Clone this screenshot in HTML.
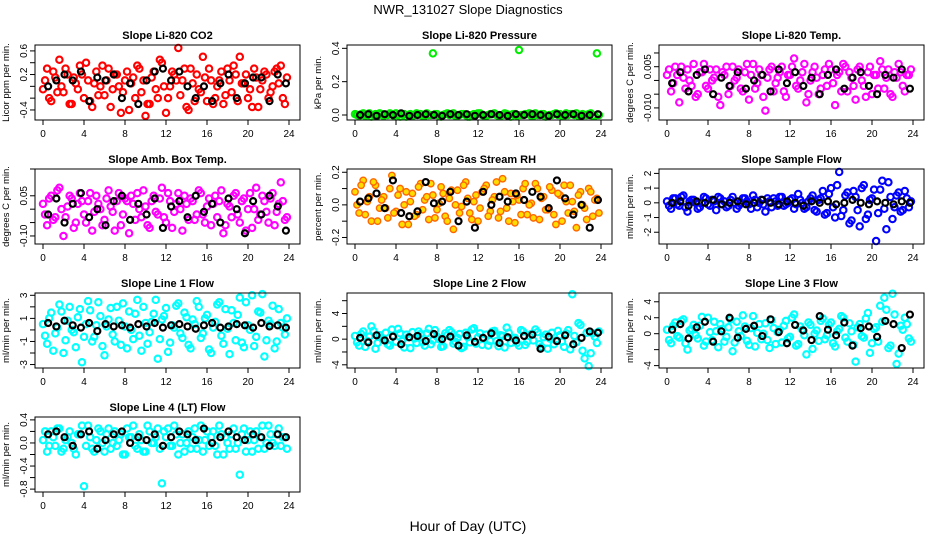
<!DOCTYPE html>
<html><head><meta charset="utf-8"><style>
body{margin:0;background:#fff}
svg{display:block;font-family:"Liberation Sans",sans-serif}
</style></head><body>
<svg id="chart" width="936" height="540" viewBox="0 0 936 540" xmlns="http://www.w3.org/2000/svg">
<rect width="936" height="540" fill="#fff"/>
<text x="468" y="14" text-anchor="middle" font-size="13">NWR_131027  Slope Diagnostics</text>
<text x="468" y="531" text-anchor="middle" font-size="14">Hour of Day (UTC)</text>
</svg>
<script>
const timesColored=[0,0.4,0.8,1.2,1.6,2,2.4,2.8,3.2,3.6,4,4.4,4.8,5.2,5.6,6,6.4,6.8,7.2,7.6,8,8.4,8.8,9.2,9.6,10,10.4,10.8,11.2,11.6,12,12.4,12.8,13.2,13.6,14,14.4,14.8,15.2,15.6,16,16.4,16.8,17.2,17.6,18,18.4,18.8,19.2,19.6,20,20.4,20.8,21.2,21.6,22,22.4,22.8,23.2,23.6];
const timesColored2=[0.2,0.6,1,1.4,1.8,2.2,2.6,3,3.4,3.8,4.2,4.6,5,5.4,5.8,6.2,6.6,7,7.4,7.8,8.2,8.6,9,9.4,9.8,10.2,10.6,11,11.4,11.8,12.2,12.6,13,13.4,13.8,14.2,14.6,15,15.4,15.8,16.2,16.6,17,17.4,17.8,18.2,18.6,19,19.4,19.8,20.2,20.6,21,21.4,21.8,22.2,22.6,23,23.4,23.8];
const timesBlack=[0.5,1.3,2.1,2.9,3.7,4.5,5.3,6.1,6.9,7.7,8.5,9.3,10.1,10.9,11.7,12.5,13.3,14.1,14.9,15.7,16.5,17.3,18.1,18.9,19.7,20.5,21.3,22.1,22.9,23.7];
const xTicks=[0,4,8,12,16,20,24];
const co2=[-0.05,0.3,-0.25,0.15,0.45,-0.1,0.2,-0.3,0.05,0.35,-0.2,0.1,-0.35,0.25,0.0,-0.15,0.3,-0.05,0.2,-0.45,0.1,-0.4,0.15,0.35,-0.1,-0.5,-0.3,0.25,-0.2,0.4,-0.45,0.0,0.2,0.65,0.1,-0.35,0.3,-0.25,-0.05,0.5,-0.25,0.1,-0.2,0.1,-0.3,0.3,-0.1,0.2,0.5,0.05,-0.2,-0.35,0.15,-0.05,0.25,-0.2,0.0,0.3,0.35,-0.3];
const co2B=[0.1,-0.2,0.25,-0.1,0.0,0.3,-0.3,0.15,-0.05,0.2,0.4,-0.25,0.05,-0.15,0.35,0.1,-0.35,0.2,0.0,-0.1,0.25,0.05,-0.2,0.3,0.1,-0.3,0.15,-0.05,0.45,0.0,-0.2,0.25,0.1,-0.15,0.3,-0.4,0.05,0.2,-0.1,0.15,0.3,-0.3,0.0,0.25,-0.15,0.1,0.35,-0.25,0.05,0.2,-0.05,0.3,-0.35,0.1,0.2,-0.1,0.25,0.05,-0.2,0.15];
const co2Black=[0.0,0.1,0.2,0.1,0.25,-0.25,0.15,0.1,0.2,-0.2,0.05,-0.3,0.1,0.25,0.3,0.1,0.25,0.0,-0.2,0.0,-0.25,0.05,0.2,-0.2,0.05,0.15,0.15,-0.25,0.2,0.05];
const pres=[0.005,-0.005,0.01,0.0,-0.01,0.005,0.01,-0.005,0.0,0.005,0.01,-0.01,0.005,0.0,-0.005,0.01,0.005,-0.005,0.0,0.37,0.005,-0.01,0.005,0.0,0.01,-0.005,0.005,0.0,-0.01,0.005,0.01,0.0,-0.005,0.005,0.01,-0.005,0.0,0.005,-0.01,0.005,0.39,0.0,0.005,-0.005,0.01,0.0,0.005,-0.005,0.0,0.01,0.005,-0.005,0.0,0.005,0.01,-0.005,0.0,0.005,-0.005,0.37];
const presB=[0.0,0.005,-0.005,0.01,0.0,-0.005,0.005,0.0,0.01,-0.005,0.0,0.005,-0.01,0.005,0.0,0.005,-0.005,0.01,0.0,0.005,-0.005,0.0,0.01,0.005,-0.005,0.0,0.005,-0.01,0.0,0.005,0.01,-0.005,0.0,0.005,0.0,-0.005,0.01,0.0,0.005,-0.005,0.0,0.005,0.01,-0.005,0.0,0.005,-0.01,0.0,0.005,0.0,-0.005,0.01,0.005,0.0,-0.005,0.005,0.0,0.01,-0.005,0.0];
const presBlack=[0.0,0.005,-0.005,0.005,0.0,0.01,-0.005,0.0,0.005,0.0,-0.005,0.005,0.0,0.005,-0.005,0.0,0.005,0.0,-0.005,0.005,0.0,0.005,0.0,-0.005,0.005,0.0,0.005,-0.005,0.0,0.005];
const temp=[0.002,-0.004,0.005,-0.008,0.001,0.004,-0.002,-0.006,0.003,0.006,-0.003,0.0,0.004,-0.009,0.002,-0.005,0.005,0.001,-0.003,0.003,-0.007,0.006,-0.001,0.002,-0.011,0.004,-0.004,0.001,0.005,-0.006,0.002,0.008,-0.003,0.003,-0.008,0.0,0.005,-0.005,0.002,-0.002,0.004,-0.009,0.003,0.006,-0.004,0.001,-0.007,0.005,-0.002,0.003,-0.005,0.002,0.007,-0.003,0.004,-0.006,0.001,0.003,-0.004,0.002];
const tempB=[0.004,-0.001,0.002,0.005,-0.003,0.0,0.006,-0.005,0.003,-0.002,0.004,0.001,-0.006,0.003,0.005,-0.002,0.0,0.004,-0.004,0.006,0.002,-0.003,0.004,-0.006,0.001,0.005,-0.001,0.003,-0.004,0.002,0.005,-0.002,0.0,0.006,-0.005,0.003,0.001,-0.003,0.004,0.006,-0.001,0.002,-0.004,0.005,0.003,-0.002,0.004,0.0,-0.006,0.005,0.002,-0.003,0.004,0.001,-0.005,0.003,0.006,-0.002,0.002,0.004];
const tempBlack=[-0.001,0.003,-0.004,0.002,0.004,-0.005,0.001,-0.002,0.003,-0.003,0.0,0.002,-0.004,0.004,-0.001,0.003,-0.002,0.001,-0.005,0.002,0.004,-0.003,0.001,0.003,-0.002,-0.005,0.002,0.001,0.004,-0.003];
const amb=[0.02,-0.06,0.05,-0.03,0.08,-0.1,0.01,0.04,-0.05,0.06,-0.02,0.03,-0.08,0.05,0.0,-0.04,0.07,-0.01,0.03,-0.06,0.04,-0.09,0.02,0.06,-0.03,0.01,-0.07,0.05,-0.02,0.08,-0.05,0.03,-0.01,0.06,-0.08,0.02,0.04,-0.04,0.07,-0.02,0.01,-0.06,0.05,0.03,-0.09,0.02,-0.03,0.06,-0.05,0.04,0.0,-0.07,0.08,-0.02,0.03,-0.05,0.06,-0.01,0.1,-0.04];
const ambB=[-0.02,0.04,-0.04,0.07,0.0,-0.03,0.05,-0.07,0.02,0.03,-0.05,0.06,-0.01,0.02,-0.06,0.04,0.01,-0.08,0.06,-0.02,0.03,0.05,-0.04,0.0,0.07,-0.06,0.03,-0.01,0.04,-0.03,0.06,-0.07,0.02,0.0,0.05,-0.04,0.03,-0.02,0.06,-0.05,0.04,0.02,-0.03,0.07,-0.06,0.01,0.05,-0.02,0.03,-0.08,0.06,0.0,-0.04,0.05,-0.01,0.04,-0.06,0.02,0.03,-0.03];
const ambBlack=[-0.02,0.04,-0.05,0.02,0.06,-0.03,0.0,-0.06,0.03,0.05,-0.04,0.02,-0.02,0.04,-0.07,0.01,0.03,-0.03,0.05,-0.01,0.02,-0.05,0.04,0.0,-0.09,0.03,-0.02,0.05,0.01,-0.08];
const rh=[0.08,-0.05,0.15,0.02,-0.1,0.12,-0.02,0.05,-0.08,0.18,-0.04,0.1,0.0,-0.12,0.07,-0.06,0.13,0.03,-0.09,0.06,-0.03,0.11,-0.07,0.04,-0.15,0.09,-0.01,0.14,-0.05,0.02,-0.1,0.08,0.12,-0.04,0.05,-0.08,0.16,-0.02,0.07,-0.11,0.03,0.1,-0.06,0.01,0.13,-0.09,0.05,-0.03,0.09,-0.12,0.06,0.12,-0.05,0.02,-0.14,0.08,-0.02,0.1,-0.07,0.04];
const rhB=[0.0,0.12,-0.06,0.05,0.14,-0.1,0.03,-0.02,0.1,-0.05,0.06,-0.12,0.08,0.02,-0.07,0.11,-0.03,0.05,0.13,-0.08,0.01,0.07,-0.1,0.09,0.0,-0.05,0.12,0.04,-0.09,0.06,-0.02,0.1,-0.07,0.03,0.14,-0.04,0.08,-0.1,0.02,0.06,-0.06,0.13,0.0,-0.08,0.1,0.04,-0.03,0.11,-0.06,0.07,-0.1,0.02,0.12,-0.04,0.06,0.0,-0.09,0.08,0.03,-0.05];
const rhBlack=[0.02,0.04,0.07,-0.02,0.15,-0.05,-0.07,-0.04,0.14,0.01,0.02,0.08,-0.1,0.02,-0.14,0.08,0.0,0.05,0.02,0.07,0.03,0.08,0.05,-0.02,0.15,0.04,-0.06,0.0,-0.14,0.03];
const sflow=[0.1,-0.4,0.3,-0.2,0.5,-0.6,0.2,0.0,-0.3,0.4,-0.1,0.2,-0.5,0.3,0.1,-0.2,0.4,-0.4,0.0,0.3,-0.1,0.5,-0.3,0.2,-0.6,0.1,0.3,-0.2,0.4,-0.1,0.2,-0.4,0.6,0.0,-0.3,0.3,-0.5,0.2,0.8,-0.7,1.0,-1.0,2.1,-0.5,0.7,-1.2,0.4,-1.6,1.2,-0.8,0.3,-2.6,0.9,-0.4,1.4,-1.1,0.5,-0.6,0.8,-0.3];
const sflowB=[-0.2,0.3,-0.1,0.4,-0.3,0.1,0.2,-0.4,0.0,0.3,-0.2,0.1,0.4,-0.1,-0.3,0.2,0.0,-0.2,0.3,0.1,-0.4,0.2,0.0,-0.1,0.3,-0.3,0.1,0.4,-0.2,0.0,0.3,-0.1,0.2,-0.4,0.1,0.5,-0.6,0.3,-0.8,0.6,-0.3,1.2,-0.9,0.5,-1.4,0.8,-0.5,1.0,-1.1,0.2,0.9,-0.7,1.5,-1.8,0.4,-0.3,0.7,-0.5,0.3,0.1];
const sflowBlack=[0.0,0.1,-0.2,0.1,0.0,0.2,-0.1,0.0,0.1,-0.1,0.0,0.2,0.0,-0.1,0.1,0.0,-0.2,0.1,0.0,0.1,-0.1,0.0,0.2,0.0,-0.1,0.1,0.0,-0.1,0.1,0.0];
const line1=[0.5,-1.2,1.5,-0.3,2.2,-2.0,0.8,0.0,-1.5,1.8,-0.6,2.5,-1.0,0.4,1.2,-2.2,0.9,-0.4,2.0,-1.3,0.3,1.6,-0.8,2.6,-1.8,0.6,-0.2,1.4,-2.5,0.9,1.9,-1.1,0.2,2.3,-0.7,1.1,-1.6,0.5,2.0,-0.3,1.3,-2.0,0.7,2.4,-1.2,0.1,1.7,-0.9,2.8,-1.5,0.4,3.0,-0.6,1.5,-2.3,0.8,2.1,-1.0,0.6,-0.4];
const line1B=[-0.5,1.0,-1.8,0.2,1.6,-0.9,2.0,-0.2,1.1,-2.8,0.5,1.7,-0.6,2.4,-1.4,0.3,1.9,-1.0,0.8,2.3,-1.6,0.0,1.4,-0.5,2.0,-1.2,0.7,2.6,-0.8,1.2,-1.9,0.4,2.1,-0.3,1.5,-1.3,0.9,2.5,-0.7,1.0,-1.7,0.2,2.2,-0.5,1.8,-2.1,0.6,1.3,-1.1,2.4,0.0,-1.4,1.6,3.1,-0.9,0.5,-1.6,1.8,0.2,1.0];
const line1Black=[0.6,0.3,0.8,0.4,0.2,0.6,-0.1,0.5,0.3,0.4,0.2,0.5,0.3,0.6,0.2,0.4,0.5,0.3,0.1,0.4,0.6,0.2,0.3,0.5,0.4,0.2,0.6,0.3,0.4,0.2];
const line2=[0.5,-1.0,1.2,-0.3,2.0,-1.5,0.6,0.0,-0.8,1.5,-0.4,0.9,-1.3,0.3,1.1,-0.6,0.8,-1.0,1.6,-0.2,0.4,-1.2,0.9,1.4,-0.7,0.2,-1.4,1.0,-0.5,1.7,0.3,-0.9,0.7,-0.3,1.3,-1.1,0.5,1.8,-0.6,0.2,-1.0,1.2,-0.4,0.8,1.5,-0.8,0.3,-1.5,1.0,-0.2,0.6,-1.2,1.4,7.0,-0.5,2.2,-3.0,-4.2,0.9,-0.6];
const line2B=[-0.5,0.8,-1.2,0.4,1.3,-0.6,0.2,1.0,-1.0,0.5,1.6,-0.3,0.7,-1.4,0.1,1.2,-0.5,0.9,-0.8,1.4,0.0,-1.1,0.6,1.1,-0.4,0.8,-1.2,0.3,1.5,-0.7,0.9,0.0,-1.0,1.2,-0.3,0.6,-1.3,1.0,0.2,-0.6,1.4,-0.9,0.5,-0.2,1.1,-1.2,0.7,0.1,-0.8,1.3,-0.4,0.9,-1.6,0.5,2.5,-1.8,1.0,-2.2,0.4,1.2];
const line2Black=[0.2,-0.5,0.6,-0.2,0.4,-0.8,0.3,0.5,-0.3,0.8,0.0,0.4,-1.0,0.6,-0.4,0.2,0.9,-0.6,0.3,-0.2,0.5,0.7,-1.5,0.4,-0.3,0.6,-0.8,0.2,1.2,1.0];
const line3=[0.5,-1.2,1.4,-0.5,1.8,-2.0,0.6,-0.2,1.0,-1.5,2.0,-0.8,0.3,1.2,-1.0,0.8,-2.2,1.5,-0.3,0.9,-1.4,2.2,0.1,-0.7,1.3,-1.8,0.7,0.2,-1.1,1.6,-0.4,2.4,-1.3,0.5,-2.6,1.1,0.0,-0.9,1.9,-0.2,1.4,-1.6,0.6,2.0,-1.0,0.3,-3.5,1.2,-0.5,2.6,-1.2,0.8,3.5,4.5,-1.8,5.0,-3.8,1.0,2.0,-0.6];
const line3B=[-0.8,1.0,-0.3,1.6,-1.2,0.4,1.1,-0.6,2.1,-1.0,0.2,1.5,-1.7,0.6,-0.4,1.8,-1.1,0.3,2.3,-0.9,0.7,-1.6,1.2,0.0,-0.8,1.7,-1.3,0.5,1.0,-0.6,2.0,-1.5,0.9,-0.2,1.4,-1.9,0.4,1.6,-0.7,1.1,-1.2,0.3,2.2,-0.5,1.3,-1.4,0.8,-0.3,1.9,-2.4,0.6,-1.0,1.5,3.0,-1.5,2.4,-2.5,0.5,1.2,-1.0];
const line3Black=[0.5,1.2,-0.6,0.8,1.5,-1.0,0.3,2.0,-0.5,0.6,1.0,-0.3,1.8,0.2,-1.2,1.1,0.4,-0.8,2.2,0.5,-0.2,1.4,-1.5,0.7,0.9,-0.4,1.6,1.2,-1.8,2.4];
const line4=[0.05,-0.15,0.2,-0.05,0.25,-0.1,0.1,0.0,-0.2,0.15,-0.75,0.3,-0.1,0.05,0.2,-0.15,0.25,0.0,-0.05,0.15,-0.2,0.1,0.3,-0.1,0.05,-0.15,0.2,0.0,0.25,-0.7,0.1,-0.05,0.3,-0.2,0.15,0.0,-0.1,0.25,0.05,-0.15,0.2,0.1,-0.05,0.3,-0.2,0.0,0.15,-0.1,-0.55,0.25,0.05,-0.15,0.2,0.1,-0.1,0.3,0.0,0.15,-0.05,0.1];
const line4B=[0.2,-0.05,0.1,0.25,-0.15,0.05,0.2,-0.1,0.15,0.3,-0.05,0.1,-0.15,0.25,0.0,0.15,-0.1,0.2,0.05,-0.2,0.25,0.1,-0.05,0.15,-0.15,0.3,0.0,0.1,-0.1,0.2,0.25,-0.05,0.15,0.0,-0.15,0.2,0.1,-0.1,0.3,0.05,-0.05,0.2,-0.2,0.15,0.1,-0.1,0.25,0.0,0.15,-0.15,0.2,0.05,-0.1,0.3,0.0,0.15,-0.05,0.25,0.1,-0.1];
const line4Black=[0.15,0.2,0.1,-0.05,0.15,0.2,-0.1,0.05,0.15,0.2,0.0,0.1,0.05,0.15,-0.05,0.1,0.2,0.15,0.05,0.25,0.0,0.1,0.2,0.1,0.05,0.15,0.1,-0.05,0.15,0.1];

const panels=[
 {name:'co2',title:'Slope Li-820 CO2',ylab:'Licor ppm per min.',col:0,row:0,ymin:-0.57,ymax:0.70,ticks:[-0.4,-0.2,0,0.2,0.4,0.6],labels:[-0.4,0.2,0.6],lfmt:1,color:'#ff0000',c:co2,c2:co2B,k:co2Black},
 {name:'pressure',title:'Slope Li-820 Pressure',ylab:'kPa per min.',col:1,row:0,ymin:-0.03,ymax:0.42,ticks:[0,0.2,0.4],labels:[0,0.2,0.4],lfmt:1,color:'#00ee00',c:pres,c2:presB,k:presBlack},
 {name:'temp',title:'Slope Li-820 Temp.',ylab:'degrees C per min.',col:2,row:0,ymin:-0.0144,ymax:0.0129,ticks:[-0.01,-0.005,0,0.005,0.01],labels:[-0.01,0.005],lfmt:3,color:'#ff00ff',c:temp,c2:tempB,k:tempBlack},
 {name:'amb-box-temp',title:'Slope Amb. Box Temp.',ylab:'degrees C per min.',col:0,row:1,ymin:-0.13,ymax:0.15,ticks:[-0.1,-0.05,0,0.05,0.15],labels:[-0.1,0.05],lfmt:2,color:'#ff00ff',c:amb,c2:ambB,k:ambBlack},
 {name:'gas-stream-rh',title:'Slope Gas Stream RH',ylab:'percent per min.',col:1,row:1,ymin:-0.24,ymax:0.22,ticks:[-0.2,-0.1,0,0.1,0.2],labels:[-0.2,0,0.2],lfmt:1,color:'#ffa500',c:rh,c2:rhB,k:rhBlack},
 {name:'sample-flow',title:'Slope Sample Flow',ylab:'ml/min per min.',col:2,row:1,ymin:-2.8,ymax:2.3,ticks:[-2,-1,0,1,2],labels:[-2,-1,0,1,2],lfmt:0,color:'#0000ff',c:sflow,c2:sflowB,k:sflowBlack},
 {name:'line1-flow',title:'Slope Line 1 Flow',ylab:'ml/min per min.',col:0,row:2,ymin:-3.3,ymax:3.2,ticks:[-3,-2,-1,0,1,2,3],labels:[-3,-1,1,3],lfmt:0,color:'#00ffff',c:line1,c2:line1B,k:line1Black},
 {name:'line2-flow',title:'Slope Line 2 Flow',ylab:'ml/min per min.',col:1,row:2,ymin:-4.5,ymax:7.2,ticks:[-4,-2,0,2,4,6],labels:[-4,0,4],lfmt:0,color:'#00ffff',c:line2,c2:line2B,k:line2Black},
 {name:'line3-flow',title:'Slope Line 3 Flow',ylab:'ml/min per min.',col:2,row:2,ymin:-4.3,ymax:5.1,ticks:[-4,-2,0,2,4],labels:[-4,0,2,4],lfmt:0,color:'#00ffff',c:line3,c2:line3B,k:line3Black},
 {name:'line4-flow',title:'Slope Line 4 (LT) Flow',ylab:'ml/min per min.',col:0,row:3,ymin:-0.85,ymax:0.45,ticks:[-0.8,-0.6,-0.4,-0.2,0,0.2,0.4],labels:[-0.8,-0.4,0,0.4],lfmt:1,color:'#00ffff',c:line4,c2:line4B,k:line4Black}
];
const NS='http://www.w3.org/2000/svg';
const svg=document.getElementById('chart');
const colLeft=[35,347,659], rowTop=[45,169,293,417], W=265, H=75;
function mk(tag,attrs,parent){const e=document.createElementNS(NS,tag);for(const a in attrs)e.setAttribute(a,attrs[a]);parent.appendChild(e);return e;}
panels.forEach(p=>{
 const L=colLeft[p.col], T=rowTop[p.row];
 const g=mk('g',{},svg);
 
 
 const xs=t=>L+8+t*(246/24);
 const ys=v=>T+H-(v-p.ymin)/(p.ymax-p.ymin)*H;
 const ti=mk('text',{x:L+W/2,y:T-6,'text-anchor':'middle','font-size':11,'font-weight':'bold'},g);
 ti.textContent=p.title;
 
 
 const yl=mk('text',{transform:`translate(${L-26},${T+H/2}) rotate(-90)`,'text-anchor':'middle','font-size':9.5},g);
 yl.textContent=p.ylab;
 
 
 const isRH=p.name==='gas-stream-rh';
 const pts=mk('g',{fill:isRH?'#ffdd00':'none',stroke:isRH?'#ff6600':p.color,'stroke-width':isRH?1.4:2.1},g);
 
 
 p.c.forEach((v,i)=>{const c=mk('circle',{cx:xs(timesColored[i]),cy:ys(v),r:3.2},pts);
  
  });
 p.c2.forEach((v,i)=>{const c=mk('circle',{cx:xs(timesColored2[i]),cy:ys(v),r:3.2},pts);
  
  });
 const kp=mk('g',{fill:'none',stroke:'#000','stroke-width':2.2},g);
 
 
 p.k.forEach((v,i)=>{const c=mk('circle',{cx:xs(timesBlack[i]),cy:ys(v),r:3},kp);
  
  });
 const box=mk('rect',{x:L,y:T,width:W,height:H,fill:'none',stroke:'#000','stroke-width':1},g);
 
 
 xTicks.forEach(t=>{mk('line',{x1:xs(t),x2:xs(t),y1:T+H,y2:T+H+5,stroke:'#000'},g);
  const tx=mk('text',{x:xs(t),y:T+H+17,'text-anchor':'middle','font-size':10},g);
  tx.textContent=t;
  
  });
 p.ticks.forEach(v=>{if(ys(v)>=T-0.5&&ys(v)<=T+H+0.5)mk('line',{x1:L-5,x2:L,y1:ys(v),y2:ys(v),stroke:'#000'},g);});
 p.labels.forEach(v=>{const tx=mk('text',{transform:`translate(${L-8},${ys(v)}) rotate(-90)`,'text-anchor':'middle','font-size':10},g);
  tx.textContent=v.toFixed(p.lfmt);
  
  });
});
</script>
</body></html>
